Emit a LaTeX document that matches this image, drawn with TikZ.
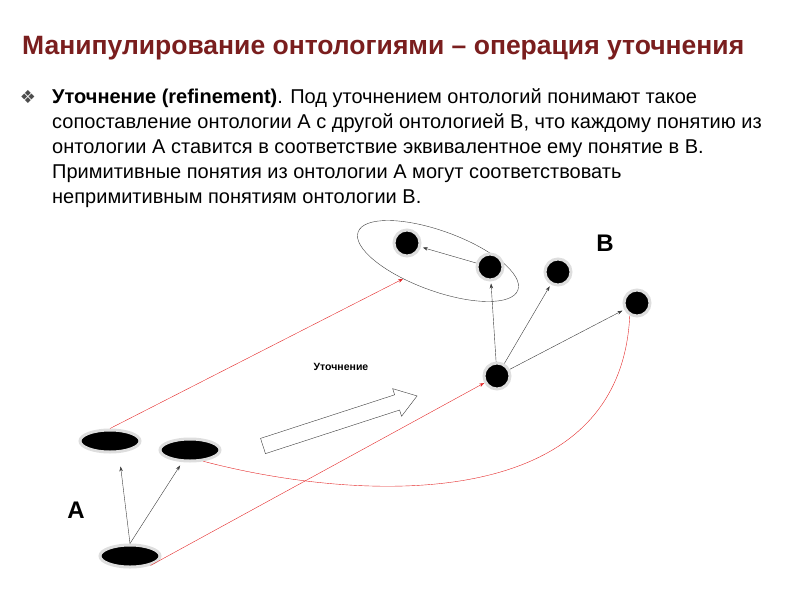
\documentclass[tikz,border=0pt]{standalone}
\usepackage{fontspec}
\setmainfont{Liberation Sans}
\newfontfamily\symfont{DejaVu Sans}
\usetikzlibrary{positioning,shapes.geometric,arrows.meta}
\definecolor{titlered}{RGB}{122,30,30}
\definecolor{linkred}{RGB}{228,40,40}
\definecolor{edgegray}{RGB}{60,60,60}
\tikzset{
  concept/.style={circle,fill=black,draw=black!13,line width=3pt,minimum size=26pt,inner sep=0pt},
  aconcept/.style={ellipse,fill=black,draw=black!13,line width=3pt,minimum width=60pt,minimum height=22pt,inner sep=0pt},
  isa/.style={-{Stealth[length=5pt,width=3.5pt]},edgegray,thin,shorten >=2pt},
  maps/.style={-{Stealth[length=5pt,width=3.5pt]},linkred,thin},
  letter/.style={font=\fontsize{24}{24}\selectfont\bfseries}
}

\begin{document}
\begin{tikzpicture}[x=1pt,y=1pt]
        \useasboundingbox (0,0) rectangle (800,-600);
        % title and text
        \node[anchor=west,inner sep=0pt,text=titlered,font=\bfseries\fontsize{26.5}{26.5}\selectfont] (title) at (22,-48) {Манипулирование онтологиями – операция уточнения};
        \node[text=black!70,font=\symfont\fontsize{18}{18}\selectfont] (bullet) at (28,-97) {❖};
        \node[anchor=north west,inner sep=0pt,align=left,font=\fontsize{20}{25}\selectfont] (body) at (52,-88) {\textbf{Уточнение (refinement)}. Под уточнением онтологий понимают такое\\
        сопоставление онтологии А с другой онтологией В, что каждому понятию из\\
        онтологии А ставится в соответствие эквивалентное ему понятие в В.\\
        Примитивные понятия из онтологии А могут соответствовать\\
        непримитивным понятиям онтологии В.};
        % ontology B
        \node[draw=black!75,thin,ellipse,minimum width=170pt,minimum height=60pt,inner sep=0pt,rotate=-20] (grp) at (438,-261) {};
        \node[concept] (b1) at (407,-243) {};
        \node[concept] (b2) at (490,-267) {};
        \node[concept] (b3) at (558,-272) {};
        \node[concept] (b4) at (637,-303) {};
        \node[concept] (hub) at (497,-376) {};
        \node[letter] (labB) at (605,-243) {B};
        \draw[isa] (b2) -- (b1);
        \draw[isa] (hub) -- (b2);
        \draw[isa] (hub) -- (b3);
        \draw[isa] (hub) -- (b4);
        % ontology A
        \node[aconcept] (a1) at (110,-441) {};
        \node[aconcept] (a2) at (190,-450) {};
        \node[aconcept] (a3) at (130,-556) {};
        \node[letter] (labA) at (76,-510) {A};
        \draw[isa,shorten >=13pt] (a3.north) -- ([xshift=9pt]a1.south);
        \draw[isa,shorten >=4pt] (a3.north) -- (a2);
        % refinement
        \coordinate (reftail) at (263,-446);
        \draw[edgegray,thin,fill=white,shift={(reftail)},rotate=18] (0,8) -- (141,8) -- (141,14.5) -- (162,0) -- (141,-14.5) -- (141,-8) -- (0,-8) -- cycle;
        \node[font=\bfseries\fontsize{10.5}{12}\selectfont] (reflabel) at (341,-367) {Уточнение};
        \draw[maps] (a1.north) -- (grp);
        \draw[maps] (a3.-25) -- (hub);
        \draw[linkred,thin] (a2.-40) .. controls (350,-500) and (620,-520) .. (b4.-120);
\end{tikzpicture}
\end{document}
